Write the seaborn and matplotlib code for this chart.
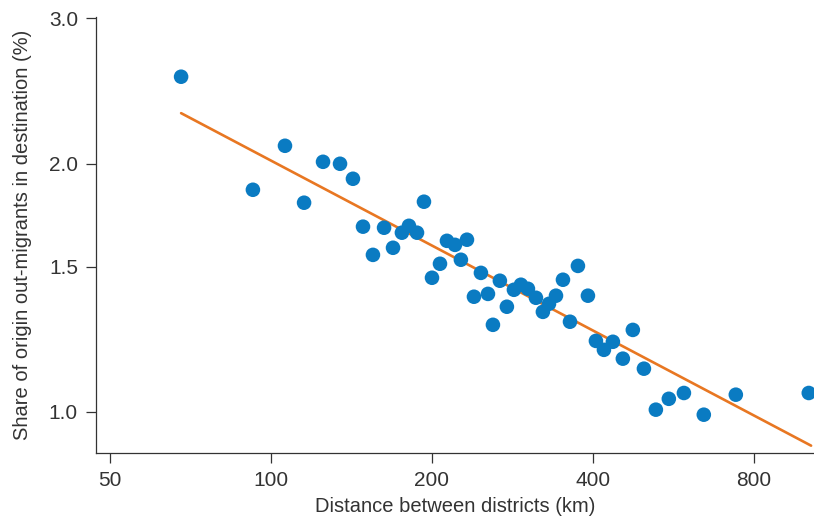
import numpy as np
import pandas as pd
import matplotlib
matplotlib.use("Agg")
import matplotlib.pyplot as plt
import matplotlib.ticker as mticker
import seaborn as sns

# Data (log-log scatter)
distance_km = [67.9, 92.5, 106.2, 115.3, 125.1, 134.6, 142.3, 148.6, 155.1, 162.7,
               169.1, 175.7, 181.1, 187.5, 193.2, 200.0, 207.0, 213.3, 220.8, 226.5,
               232.5, 239.6, 246.9, 254.5, 260.0, 267.9, 276.1, 284.6, 293.3, 302.3,
               312.9, 322.4, 331.0, 341.1, 351.5, 362.3, 374.9, 391.4, 405.1, 419.3,
               435.8, 454.9, 474.9, 498.1, 524.4, 554.5, 591.7, 644.6, 739.9, 1013.0]
share_pct = [2.549, 1.859, 2.102, 1.793, 2.010, 1.999, 1.917, 1.677, 1.550, 1.672,
             1.581, 1.649, 1.681, 1.649, 1.798, 1.454, 1.512, 1.612, 1.594, 1.529,
             1.617, 1.379, 1.474, 1.390, 1.275, 1.442, 1.341, 1.406, 1.426, 1.410,
             1.375, 1.322, 1.352, 1.383, 1.446, 1.286, 1.503, 1.383, 1.219, 1.189,
             1.216, 1.160, 1.257, 1.128, 1.006, 1.037, 1.054, 0.992, 1.049, 1.054]

x_ticks = [50, 100, 200, 400, 800]
y_ticks = [1.0, 1.5, 2.0, 3.0]

df = pd.DataFrame({"distance": distance_km, "share": share_pct})

# Log-log least squares fit
slope, intercept = np.polyfit(np.log(df["distance"]), np.log(df["share"]), 1)
fit_x = np.geomspace(df["distance"].min(), df["distance"].max() * 1.01, 50)
fit = pd.DataFrame({"distance": fit_x, "share": np.exp(intercept + slope * np.log(fit_x))})

sns.set_style("ticks")
plt.rcParams["font.family"] = ["Liberation Sans", "DejaVu Sans"]

fig = plt.figure(figsize=(8.14, 5.21), dpi=100)
ax = fig.add_axes([0.118, 0.131, 0.882, 0.836])

sns.scatterplot(data=df, x="distance", y="share", ax=ax, color="#0a7bc2",
                s=110, edgecolor="none", zorder=3)
sns.lineplot(data=fit, x="distance", y="share", ax=ax, color="#e87722",
             linewidth=1.9, zorder=2)

ax.set_xscale("log")
ax.set_yscale("log")
ax.set_xlim(47.08, 1036)
ax.set_ylim(0.892, 3.01)

ax.xaxis.set_major_locator(mticker.FixedLocator(x_ticks))
ax.xaxis.set_major_formatter(mticker.FixedFormatter([str(t) for t in x_ticks]))
ax.xaxis.set_minor_locator(mticker.NullLocator())
ax.yaxis.set_major_locator(mticker.FixedLocator(y_ticks))
ax.yaxis.set_major_formatter(mticker.FixedFormatter([f"{t:.1f}" for t in y_ticks]))
ax.yaxis.set_minor_locator(mticker.NullLocator())

ax.tick_params(axis="both", length=7, width=0.9, color="#333333",
               labelsize=15, labelcolor="#333333", pad=6)
for side in ["left", "bottom"]:
    ax.spines[side].set_color("#333333")
    ax.spines[side].set_linewidth(0.9)
sns.despine(ax=ax)

ax.set_xlabel("Distance between districts (km)", fontsize=14.5, color="#333333", labelpad=5)
ax.set_ylabel("Share of origin out-migrants in destination (%)", fontsize=14.5,
              color="#333333", labelpad=12)

fig.savefig("out.png", dpi=100)
